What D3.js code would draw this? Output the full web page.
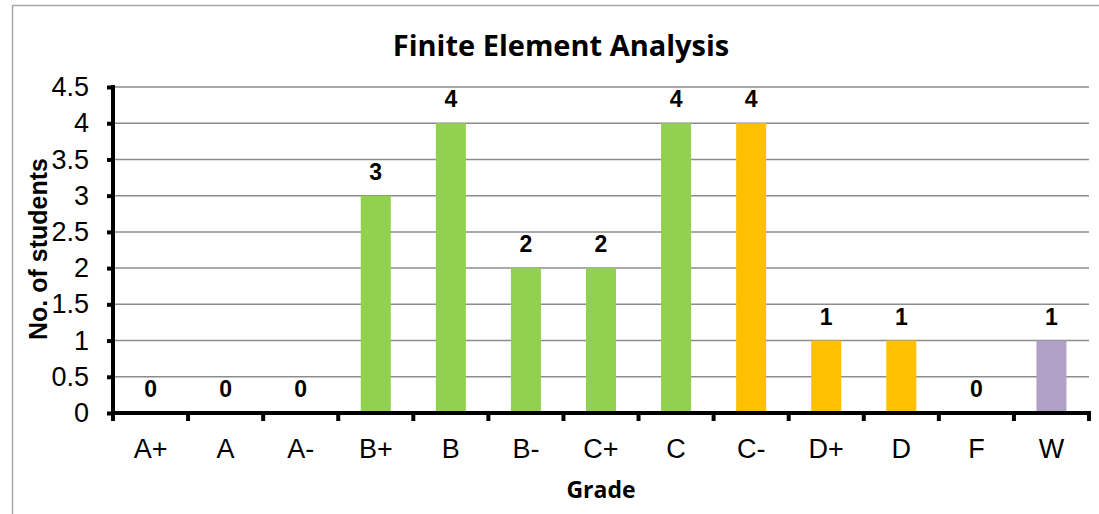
<!DOCTYPE html>
<html>
<head>
<meta charset="utf-8">
<script src="https://cdn.jsdelivr.net/npm/d3@7"></script>
<style>
  body { margin: 0; background: #fff; }
</style>
</head>
<body>
<div id="chart"></div>
<script>
const grades = ["A+", "A", "A-", "B+", "B", "B-", "C+", "C", "C-", "D+", "D", "F", "W"];
const students = [0, 0, 0, 3, 4, 2, 2, 4, 4, 1, 1, 0, 1];
const barColors = ["#92d050", "#92d050", "#92d050", "#92d050", "#92d050", "#92d050", "#92d050",
                   "#92d050", "#ffc000", "#ffc000", "#ffc000", "#ffc000", "#b2a1c7"];
const yTicks = [0, 0.5, 1, 1.5, 2, 2.5, 3, 3.5, 4, 4.5];

const width = 1099, height = 514;
const margin = { top: 87, right: 10, bottom: 101, left: 113 };
const plotWidth = 1089 - margin.left;
const plotHeight = height - margin.top - margin.bottom;

const svg = d3.select("#chart")
  .append("svg")
  .attr("width", width)
  .attr("height", height);

// chart frame
svg.append("rect")
  .attr("x", 12.5)
  .attr("y", 5.5)
  .attr("width", 1100)
  .attr("height", 530)
  .attr("fill", "#fff")
  .attr("stroke", "#a6a6a6")
  .attr("stroke-width", 1.5);

const xScale = d3.scaleBand()
  .domain(grades)
  .range([0, plotWidth])
  .paddingInner(0.6)
  .paddingOuter(0.3);

const yScale = d3.scaleLinear()
  .domain([0, 4.5])
  .range([plotHeight, 0]);

const g = svg.append("g")
  .attr("transform", `translate(${margin.left}, ${margin.top})`);

// gridlines
g.selectAll(".grid")
  .data(yTicks.filter(d => d > 0))
  .enter()
  .append("line")
  .attr("class", "grid")
  .attr("x1", 0)
  .attr("x2", plotWidth)
  .attr("y1", d => yScale(d))
  .attr("y2", d => yScale(d))
  .attr("stroke", "#8c8c8c")
  .attr("stroke-width", 1.5);

// bars
g.selectAll(".bar")
  .data(grades)
  .enter()
  .append("rect")
  .attr("class", "bar")
  .attr("x", d => xScale(d))
  .attr("width", xScale.bandwidth())
  .attr("y", (d, i) => yScale(students[i]))
  .attr("height", (d, i) => plotHeight - yScale(students[i]))
  .attr("fill", (d, i) => barColors[i]);

// value labels
g.selectAll(".value")
  .data(grades)
  .enter()
  .append("text")
  .attr("class", "value")
  .attr("x", d => xScale(d) + xScale.bandwidth() / 2)
  .attr("y", (d, i) => yScale(students[i]) - 16)
  .attr("text-anchor", "middle")
  .attr("font-family", "Liberation Sans, Arial")
  .attr("font-weight", "bold")
  .attr("font-size", "23px")
  .text((d, i) => students[i]);

// y axis
const yAxis = d3.axisLeft(yScale)
  .tickValues(yTicks)
  .tickSize(6)
  .tickPadding(6)
  .tickFormat(d => d);

const yG = g.append("g").call(yAxis);
yG.select(".domain").attr("stroke", "#000").attr("stroke-width", 4)
  .attr("d", `M0,${plotHeight + 2}V-2`);
yG.selectAll(".tick line").attr("stroke", "#000").attr("stroke-width", 4).attr("x1", -2);
yG.selectAll(".tick text")
  .attr("font-family", "Liberation Sans, Arial")
  .attr("font-size", "27px")
  .attr("fill", "#000")
  .attr("x", -24);

// x axis with ticks at band boundaries
const xG = g.append("g")
  .attr("transform", `translate(0, ${plotHeight})`);
xG.append("line")
  .attr("x1", -2)
  .attr("x2", plotWidth + 2)
  .attr("stroke", "#000")
  .attr("stroke-width", 4);

const step = xScale.step();
xG.selectAll(".xtick")
  .data(d3.range(grades.length + 1))
  .enter()
  .append("line")
  .attr("class", "xtick")
  .attr("x1", i => i * step)
  .attr("x2", i => i * step)
  .attr("y1", 0)
  .attr("y2", 8)
  .attr("stroke", "#000")
  .attr("stroke-width", 4);

xG.selectAll(".xlabel")
  .data(grades)
  .enter()
  .append("text")
  .attr("class", "xlabel")
  .attr("x", d => xScale(d) + xScale.bandwidth() / 2)
  .attr("y", 45)
  .attr("text-anchor", "middle")
  .attr("font-family", "Liberation Sans, Arial")
  .attr("font-size", "27px")
  .text(d => d);

// titles
svg.append("text")
  .attr("x", 561)
  .attr("y", 56)
  .attr("text-anchor", "middle")
  .attr("font-family", "Open Sans, DejaVu Sans, sans-serif")
  .attr("font-weight", "bold")
  .attr("font-size", "29px")
  .text("Finite Element Analysis");

svg.append("text")
  .attr("x", 601)
  .attr("y", 498)
  .attr("text-anchor", "middle")
  .attr("font-family", "Open Sans, DejaVu Sans, sans-serif")
  .attr("font-weight", "bold")
  .attr("font-size", "23px")
  .text("Grade");

svg.append("text")
  .attr("transform", `translate(47, 249) rotate(-90)`)
  .attr("text-anchor", "middle")
  .attr("font-family", "Liberation Sans, Arial")
  .attr("font-weight", "bold")
  .attr("font-size", "25px")
  .text("No. of students");
</script>
</body>
</html>
